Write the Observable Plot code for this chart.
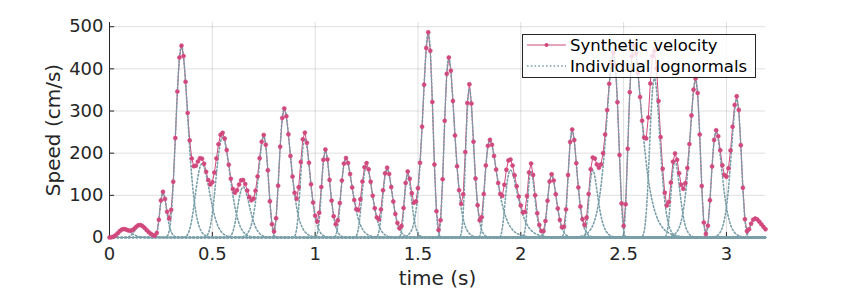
<!DOCTYPE html>
<html><head><meta charset="utf-8">
<script src="https://cdn.jsdelivr.net/npm/d3@7"></script>
<script src="https://cdn.jsdelivr.net/npm/@observablehq/plot@0.6"></script>
<style>
body{margin:0;background:#fff;font-family:"DejaVu Sans",sans-serif;}
#wrap{position:relative;width:843px;height:294px;}
#legend{position:absolute;left:522px;top:34px;width:234px;height:44px;border:1px solid #262626;background:rgba(255,255,255,0.8);box-sizing:border-box;}
#legend svg{position:absolute;left:0;top:0;}
</style></head><body><div id="wrap"></div>
<script>
// Lognormal-shaped components
// (negative modeOffset = component whose long tail is on the left)
const peakTime   = [0.07,0.15,0.26,0.35,0.45,0.55,0.65,0.75,0.85,0.95,1.05,1.15,1.25,1.35,1.45,1.55,1.65,1.75,1.85,1.95,2.05,2.15,2.25,2.35,2.45,2.55,2.65,2.75,2.85,2.95,3.05,3.14];
const peakSpeed  = [20,28,108,455,175,238,120,240,306,235,206,188,168,162,150,487,427,354,231,160,157,149,255,160,436,456,378,182,376,251,328,45];
const modeOffset = [0.16,0.16,0.09,0.16,0.20,0.20,0.16,-0.12,0.09,0.10,0.10,0.09,0.10,0.10,0.09,-0.12,0.09,0.095,0.07,0.07,0.09,0.10,0.10,0.07,-0.09,0.07,0.13,0.10,-0.09,0.09,-0.12,0.07];
const logSigma   = [0.18,0.18,0.18,0.18,0.17,0.17,0.18,0.20,0.30,0.23,0.20,0.30,0.25,0.23,0.19,0.20,0.27,0.20,0.42,0.42,0.19,0.21,0.21,0.30,0.32,0.45,0.19,0.21,0.27,0.28,0.20,0.42];
const sampleCount = 320;          // 100 Hz samples, 0 .. 3.19 s
const xTicks = [0,0.5,1,1.5,2,2.5,3];
const yTicks = [0,100,200,300,400,500];
const pink = "#d1487d", teal = "#7a9fa9";

const comps = peakTime.map((tp,i)=>({tp, vp:peakSpeed[i], m:modeOffset[i], s:logSigma[i]}));
function lognormal(c,t){
  const u = c.m>0 ? 1+(t-c.tp)/c.m : 1+(c.tp-t)/(-c.m);
  if(u<=0) return 0;
  const L = Math.log(u);
  return c.vp*Math.exp(-L*L/(2*c.s*c.s));
}
const tEnd = (sampleCount-1)/100;
const synth = d3.range(sampleCount).map(k=>{const t=k/100; return {t, v:d3.sum(comps,c=>lognormal(c,t))};});
const compPts = [];
comps.forEach((c,i)=>{
  const a = c.m>0 ? Math.max(0,c.tp-c.m) : 0;
  const b = c.m>0 ? tEnd : Math.min(tEnd, c.tp-c.m);
  const n = Math.max(2,Math.round((b-a)/0.004));
  for(let k=0;k<=n;k++){const t=a+k*(b-a)/n; compPts.push({id:i,t,v:lognormal(c,t)});}
});

const plot = Plot.plot({
  width:843, height:294, marginLeft:109, marginRight:78, marginTop:22, marginBottom:57,
  x:{domain:[0,3.19]}, y:{domain:[0,510]},
  style:{fontFamily:"DejaVu Sans", fontSize:"18px", color:"#262626", background:"white"},
  marks:[
    Plot.gridX(xTicks.slice(1),{stroke:"#262626", strokeOpacity:0.15}),
    Plot.gridY(yTicks.slice(1),{stroke:"#262626", strokeOpacity:0.15}),
    Plot.axisX({ticks:xTicks, tickSize:0, tickPadding:10, tickFormat:d=>String(d), label:null, fontSize:18}),
    Plot.axisY({ticks:yTicks, tickSize:0, tickPadding:6, label:null, fontSize:18}),
    Plot.ruleX([0],{stroke:"#262626"}),
    Plot.ruleY([0],{stroke:"#262626"}),
    Plot.ruleX(xTicks.slice(1),{y1:0, y2:12, stroke:"#262626"}),
    Plot.ruleY(yTicks.slice(1),{x1:0, x2:0.025, stroke:"#262626"}),
    Plot.line(synth,{x:"t", y:"v", stroke:pink, strokeWidth:1}),
    Plot.line(compPts,{x:"t", y:"v", z:"id", stroke:teal, strokeWidth:1.6, strokeDasharray:"1.6 2.2"}),
    Plot.dot(synth,{x:"t", y:"v", r:2, fill:pink, stroke:pink, strokeWidth:0.6}),
    Plot.text(["time (s)"],{frameAnchor:"bottom", dy:47, fontSize:20, fill:"#262626"}),
    Plot.text(["Speed (cm/s)"],{frameAnchor:"left", dx:-56, rotate:-90, textAnchor:"middle", fontSize:20, fill:"#262626"})
  ]
});
const wrap = document.getElementById("wrap");
wrap.appendChild(plot);
const lg = document.createElement("div");
lg.id="legend";
lg.innerHTML = `<svg width="234" height="44" font-family="DejaVu Sans" font-size="16.5">
<line x1="4" x2="43" y1="10" y2="10" stroke="${pink}" stroke-width="1"/>
<circle cx="23.5" cy="10" r="2" fill="${pink}"/>
<text x="47" y="10" dy="0.35em" fill="#000">Synthetic velocity</text>
<line x1="4" x2="43" y1="31" y2="31" stroke="${teal}" stroke-width="1.6" stroke-dasharray="1.6 2.2"/>
<text x="47" y="31" dy="0.35em" fill="#000">Individual lognormals</text></svg>`;
wrap.appendChild(lg);
</script></body></html>
